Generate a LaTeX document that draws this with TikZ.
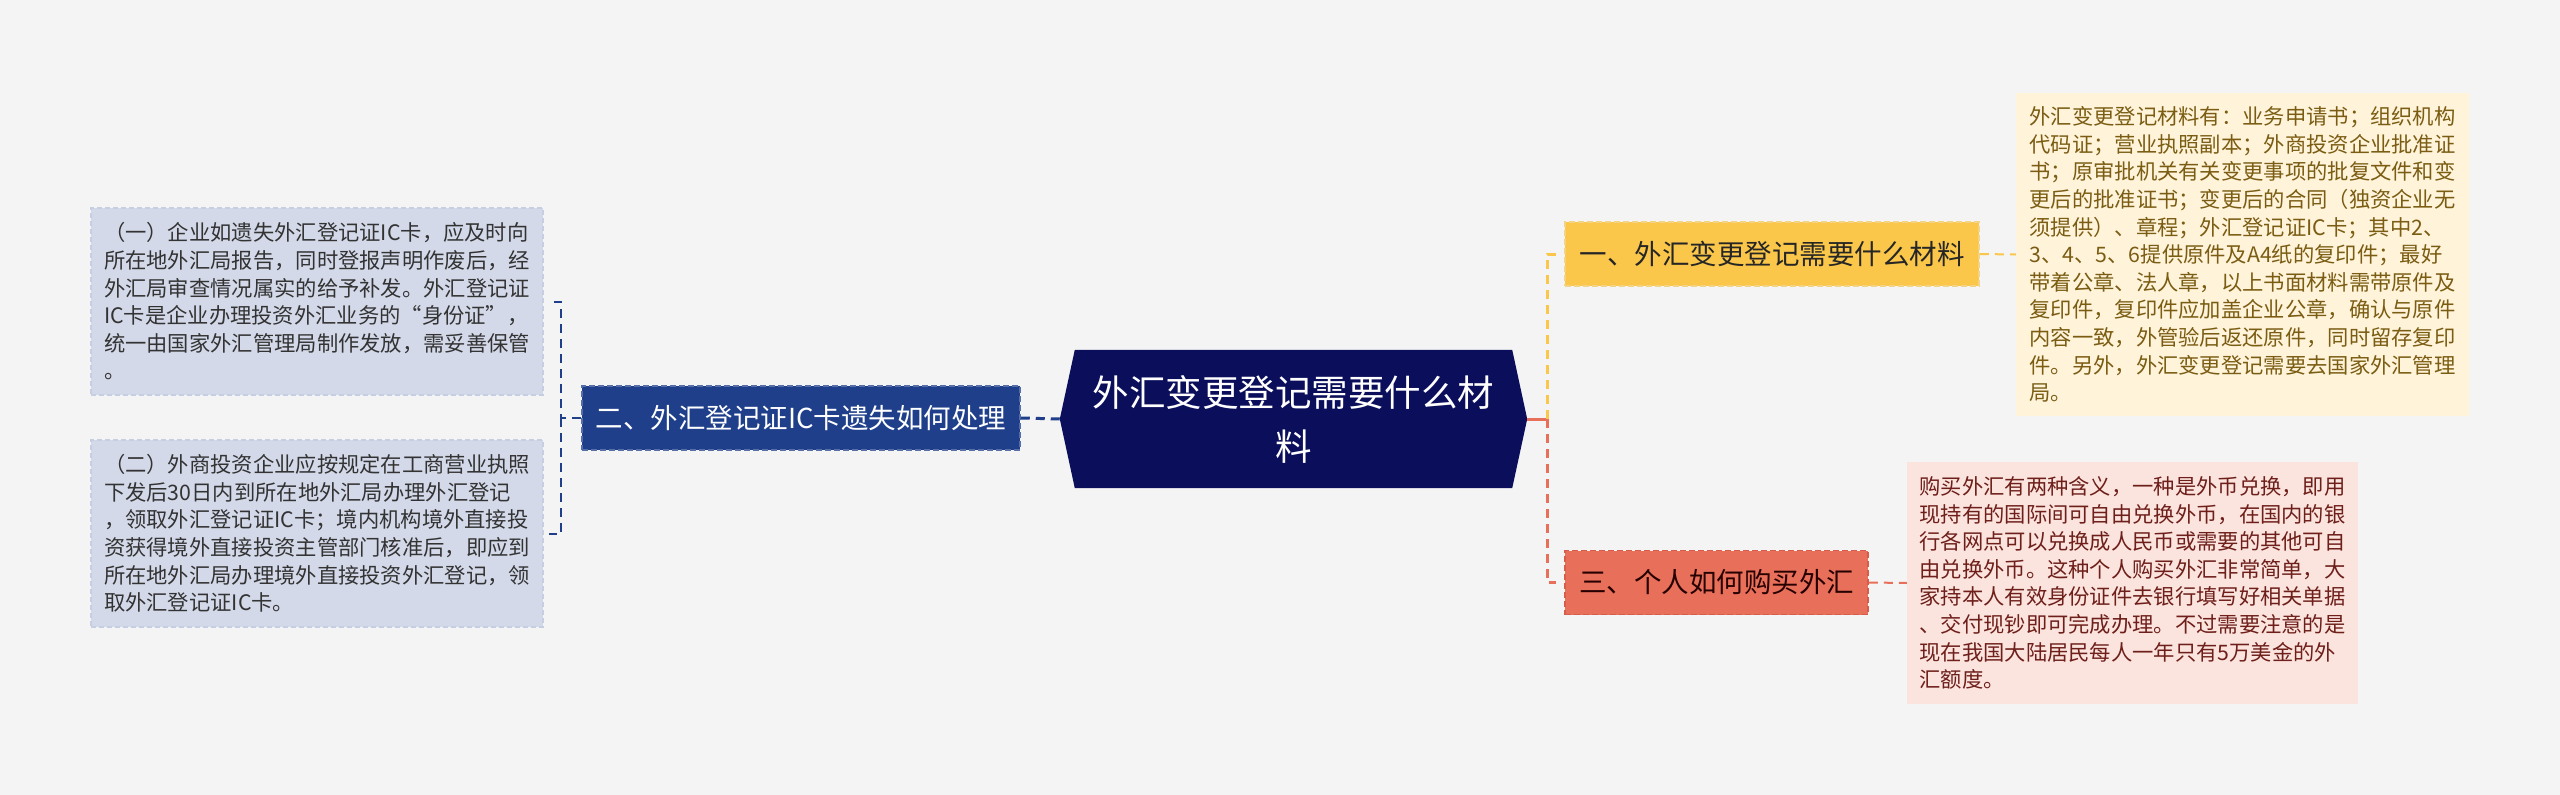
\documentclass[tikz,border=0pt]{standalone}
\usepackage{fontspec}
\setmainfont{Noto Sans CJK SC}
\usetikzlibrary{backgrounds}
\definecolor{bggray}{HTML}{F4F4F4}
\definecolor{rootnavy}{HTML}{0B0F5B}
\definecolor{lostblue}{HTML}{1F3F8B}
\definecolor{leafblue}{HTML}{D3D9E9}
\definecolor{leafblueline}{HTML}{C6CEE1}
\definecolor{matyellow}{HTML}{FBC74B}
\definecolor{matyellowline}{HTML}{F3D487}
\definecolor{leafcream}{HTML}{FFF3DA}
\definecolor{creamtext}{HTML}{7A5C12}
\definecolor{buyred}{HTML}{E8705A}
\definecolor{buyredline}{HTML}{D45E4A}
\definecolor{leafpink}{HTML}{FBE3DE}
\definecolor{pinktext}{HTML}{6E1F1A}
\tikzset{
  topicbox/.style={minimum height=64pt, inner sep=0pt, font=\fontsize{27.5}{32}\selectfont,
    dash pattern=on 6pt off 3pt, line width=1.5pt},
  leafbox/.style={inner sep=0pt, align=left, font=\fontsize{21.3}{27.6}\selectfont,
    minimum width=452pt},
  link/.style={line width=3pt, dash pattern=on 9pt off 6pt},
}

\begin{document}
\begin{tikzpicture}[x=1pt,y=-1pt]
    \begin{scope}[on background layer]
        \fill[bggray] (0,0) rectangle (2560,795);
    \end{scope}
    \useasboundingbox (0,0) rectangle (2560,795);

    \node[inner sep=0pt, minimum width=467pt, minimum height=138pt, align=center, text=white,
        font=\fontsize{36.5}{54}\selectfont] (root) at (1293.5,419) {外汇变更登记需要什么材\\料};
    \begin{scope}[on background layer]
        \fill[rootnavy] ([xshift=15pt]root.north west) -- ([xshift=-15pt]root.north east) -- (root.east)
            -- ([xshift=-15pt]root.south east) -- ([xshift=15pt]root.south west) -- (root.west) -- cycle;
    \end{scope}

    \node[topicbox, fill=lostblue, draw=lostblue!75!white, text=white, minimum width=438pt] (lost) at (801,418) {二、外汇登记证IC卡遗失如何处理};
    \node[leafbox, fill=leafblue, draw=leafblueline, dash pattern=on 5pt off 3pt, line width=1.5pt, text=black!80,
        minimum height=187pt] (lostA) at (317,301.5) {（一）企业如遗失外汇登记证IC卡，应及时向\\所在地外汇局报告，同时登报声明作废后，经\\外汇局审查情况属实的给予补发。外汇登记证\\IC卡是企业办理投资外汇业务的“身份证”，\\统一由国家外汇管理局制作发放，需妥善保管\\。};
    \node[leafbox, fill=leafblue, draw=leafblueline, dash pattern=on 5pt off 3pt, line width=1.5pt, text=black!80,
        minimum height=187pt] (lostB) at (317,533.5) {（二）外商投资企业应按规定在工商营业执照\\下发后30日内到所在地外汇局办理外汇登记\\，领取外汇登记证IC卡；境内机构境外直接投\\资获得境外直接投资主管部门核准后，即应到\\所在地外汇局办理境外直接投资外汇登记，领\\取外汇登记证IC卡。};

    \node[topicbox, fill=matyellow, draw=matyellowline, text=black!85, minimum width=414pt] (mat) at (1772,254) {一、外汇变更登记需要什么材料};
    \node[topicbox, fill=buyred, draw=buyredline, text=black!85!red, minimum width=303pt] (buy) at (1716.5,582.5) {三、个人如何购买外汇};

    \node[leafbox, fill=leafcream, text=creamtext, minimum width=453pt, minimum height=323pt] (matleaf) at (2242.5,254.5) {外汇变更登记材料有：业务申请书；组织机构\\代码证；营业执照副本；外商投资企业批准证\\书；原审批机关有关变更事项的批复文件和变\\更后的批准证书；变更后的合同（独资企业无\\须提供）、章程；外汇登记证IC卡；其中2、\\3、4、5、6提供原件及A4纸的复印件；最好\\带着公章、法人章，以上书面材料需带原件及\\复印件，复印件应加盖企业公章，确认与原件\\内容一致，外管验后返还原件，同时留存复印\\件。另外，外汇变更登记需要去国家外汇管理\\局。};
    \node[leafbox, fill=leafpink, text=pinktext, minimum width=451pt, minimum height=242pt] (buyleaf) at (2132.5,583) {购买外汇有两种含义，一种是外币兑换，即用\\现持有的国际间可自由兑换外币，在国内的银\\行各网点可以兑换成人民币或需要的其他可自\\由兑换外币。这种个人购买外汇非常简单，大\\家持本人有效身份证件去银行填写好相关单据\\、交付现钞即可完成办理。不过需要注意的是\\现在我国大陆居民每人一年只有5万美金的外\\汇额度。};

    \coordinate (ljoin) at ([xshift=-20pt]lost.west);
    \coordinate (rjoin) at ([xshift=20pt]root.east);

    \draw[link, lostblue] (lost.east) -- (root.west);
    \draw[link, lostblue, line width=2pt] (lost.west) -- (ljoin) |- ([xshift=5pt]lostA.east);
    \draw[link, lostblue, line width=2pt] (ljoin) |- ([xshift=5pt]lostB.east);

    \draw[buyred, line width=3pt] (root.east) -- (rjoin);
    \draw[link, matyellow, shorten >=8pt] (rjoin) |- (mat.west);
    \draw[link, buyred, shorten >=8pt] (rjoin) |- (buy.west);
    \draw[link, matyellow, line width=2pt] (mat.east) -- (matleaf.west);
    \draw[link, buyred, line width=2pt] (buy.east) -- (buyleaf.west);
\end{tikzpicture}
\end{document}
